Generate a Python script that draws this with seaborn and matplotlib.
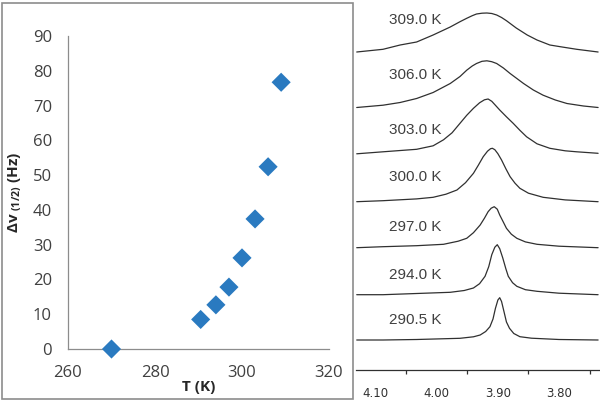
import numpy as np
import pandas as pd
import seaborn as sns
import matplotlib.pyplot as plt
from matplotlib.patches import Rectangle

# 왼쪽 그래프: 온도별 선폭
temp_k = [270.0, 290.5, 294.0, 297.0, 300.0, 303.0, 306.0, 309.0]
width_hz = [0.0, 8.5, 12.7, 17.8, 26.2, 37.4, 52.4, 76.7]

# 오른쪽 그래프: 온도별 1H 스펙트럼 (그림에서 읽은 점, 높이는 임의 단위)
spec_labels = ["309.0 K", "306.0 K", "303.0 K", "300.0 K", "297.0 K", "294.0 K", "290.5 K"]
ppm_309 = [4.131, 4.088, 4.060, 4.033, 4.006, 3.978, 3.962, 3.951, 3.942, 3.935, 3.926, 3.918,
           3.910, 3.902, 3.894, 3.886, 3.870, 3.852, 3.836, 3.815, 3.798, 3.771, 3.736]
int_309 = [0, 2.7, 7, 10, 17, 25, 30.3, 33.7, 36.3, 38, 38.8, 39,
           38.5, 37, 34.5, 31.3, 24, 17, 12, 7, 5.3, 2.7, 0]
ppm_306 = [4.131, 4.088, 4.060, 4.033, 4.006, 3.978, 3.962, 3.951, 3.942, 3.935, 3.926, 3.918,
           3.910, 3.902, 3.891, 3.880, 3.869, 3.858, 3.842, 3.826, 3.806, 3.787, 3.760, 3.736]
int_306 = [0, 2.3, 5, 9, 15, 24, 31, 37.3, 41.5, 44, 46.2, 46.7,
           45.8, 44, 39.5, 34, 29, 24, 17.5, 12.3, 7.5, 4, 1.5, 0]
ppm_303 = [4.131, 4.088, 4.033, 4.006, 3.989, 3.975, 3.962, 3.951, 3.940, 3.930, 3.922, 3.916,
           3.910, 3.904, 3.897, 3.886, 3.875, 3.864, 3.853, 3.836, 3.815, 3.790, 3.771, 3.736]
int_303 = [0, 2, 4.5, 8, 14, 21, 30.5, 38.5, 45.5, 51, 54, 54.8,
           52.5, 48.5, 43.8, 37, 30.5, 23.5, 17, 10, 5.5, 3, 2, 0.5]
ppm_300 = [4.131, 4.088, 4.033, 4.006, 3.985, 3.967, 3.953, 3.940, 3.932, 3.924, 3.917, 3.912,
           3.909, 3.905, 3.900, 3.894, 3.887, 3.880, 3.872, 3.864, 3.850, 3.826, 3.790, 3.736]
int_300 = [0, 1, 2.8, 4.4, 7.5, 11.7, 19, 28.4, 36.5, 45, 50.5, 53,
           53.4, 52, 48, 41.7, 33, 25, 18.5, 13.4, 8.5, 4.4, 1.8, 0]
ppm_297 = [4.131, 4.088, 4.033, 3.989, 3.965, 3.951, 3.940, 3.929, 3.922, 3.916, 3.911,
           3.906, 3.901, 3.897, 3.891, 3.886, 3.878, 3.869, 3.855, 3.836, 3.800, 3.736]
int_297 = [0, 1, 2, 3.4, 6.5, 9.4, 15, 22.7, 29.5, 36, 39.5,
           41, 38.5, 32.7, 25.5, 19.4, 13.5, 9.4, 5.8, 3.4, 1.5, 0]
ppm_294 = [4.131, 4.088, 4.033, 3.978, 3.955, 3.940, 3.930, 3.921, 3.915, 3.910, 3.905,
           3.901, 3.897, 3.892, 3.887, 3.883, 3.876, 3.869, 3.855, 3.836, 3.800, 3.736]
int_294 = [0, 0, 1.2, 2.4, 4.2, 6.7, 11, 18.4, 28, 40, 47.5,
           50, 46, 36.7, 26, 18.4, 12, 8.4, 5, 3.4, 1.5, 0]
ppm_290 = [4.131, 4.088, 4.033, 3.962, 3.940, 3.929, 3.920, 3.913, 3.908, 3.904, 3.900,
           3.897, 3.894, 3.890, 3.886, 3.881, 3.874, 3.864, 3.845, 3.800, 3.736]
int_290 = [0, 0, 0.5, 1.7, 3.2, 5, 8.5, 13.3, 21, 31.7, 40,
           42.3, 38.5, 28.3, 18, 11.7, 6.5, 3.3, 1.8, 0.5, 0]

spectra = [(ppm_309, int_309), (ppm_306, int_306), (ppm_303, int_303), (ppm_300, int_300),
           (ppm_297, int_297), (ppm_294, int_294), (ppm_290, int_290)]
# 스펙트럼을 쌓기 위한 기준선 위치와 라벨 위치
offsets = [317.5, 262.0, 215.7, 167.8, 121.8, 74.8, 29.5]
label_y = [349.5, 294.5, 239.5, 192.8, 142.8, 94.8, 49.5]

sns.set_style("white")
plt.rcParams["font.family"] = ["Open Sans", "DejaVu Sans"]
plt.rcParams["mathtext.fontset"] = "custom"
plt.rcParams["mathtext.rm"] = "Open Sans"
plt.rcParams["mathtext.bf"] = "Open Sans:bold"
plt.rcParams["mathtext.default"] = "bf"

fig = plt.figure(figsize=(6.0, 4.03), dpi=100)
ax1 = fig.add_axes([68 / 600, 1 - 349 / 403, 261 / 600, 313 / 403])
ax2 = fig.add_axes([356 / 600, 1 - 369.5 / 403, 244 / 600, 369.5 / 403])

# 왼쪽 패널 테두리
fig.add_artist(Rectangle((1.5 / 600, 1 - 398.5 / 403), 351 / 600, 396 / 403,
                         transform=fig.transFigure, fill=False, edgecolor="#8c8c8c", lw=1.2))

# 산점도
df = pd.DataFrame({"T": temp_k, "dv": width_hz})
sns.scatterplot(data=df, x="T", y="dv", marker="D", s=95, color="#2a7ac0",
                edgecolor="none", ax=ax1, zorder=3, clip_on=False)
ax1.set_xlim(260, 320)
ax1.set_ylim(0, 90)
ax1.set_xticks([260, 280, 300, 320])
ax1.set_yticks(range(0, 91, 10))
for side in ["top", "right"]:
    ax1.spines[side].set_visible(False)
for side in ["left", "bottom"]:
    ax1.spines[side].set_color("#8c8c8c")
    ax1.spines[side].set_linewidth(0.9)
ax1.tick_params(axis="both", direction="out", length=3.6, width=0.9, color="#8c8c8c",
                labelcolor="#404040", labelsize=12)
ax1.tick_params(axis="y", pad=8)
ax1.tick_params(axis="x", pad=8)
ax1.set_xlabel("T (K)", fontsize=11, fontweight="bold", color="#262626", labelpad=-1)
ax1.set_ylabel(r"$\Delta$v$_{\ (1/2)}$ (Hz)", fontsize=11, fontweight="bold",
               color="#262626", labelpad=7)

# 스펙트럼
for (ppm, inten), off, lab, ly in zip(spectra, offsets, spec_labels, label_y):
    sns.lineplot(x=ppm, y=np.array(inten) + off, sort=False, color="#303030",
                 lw=0.9, ax=ax2)
    ax2.text(4.079, ly, lab, fontsize=11, color="#404040", va="center", ha="left",
             family=["Liberation Sans", "DejaVu Sans"])
ax2.set_xlim(4.1322, 3.7329)
ax2.set_ylim(0, 369.5)
for side in ["top", "right", "left"]:
    ax2.spines[side].set_visible(False)
ax2.spines["bottom"].set_color("#303030")
ax2.spines["bottom"].set_linewidth(0.9)
ax2.set_yticks([])
ax2.set_xticks([4.10, 4.00, 3.90, 3.80])
ax2.set_xticklabels(["4.10", "4.00", "3.90", "3.80"], family=["DejaVu Sans"])
ax2.set_xticks([4.05, 3.95, 3.85, 3.75], minor=True)
ax2.tick_params(axis="x", which="major", direction="out", length=6.5, width=0.9,
                color="#303030", labelsize=8.5, labelcolor="#303030", pad=6)
ax2.tick_params(axis="x", which="minor", direction="out", length=3, width=0.9,
                color="#303030", bottom=True)

fig.savefig("out.png", dpi=100)
